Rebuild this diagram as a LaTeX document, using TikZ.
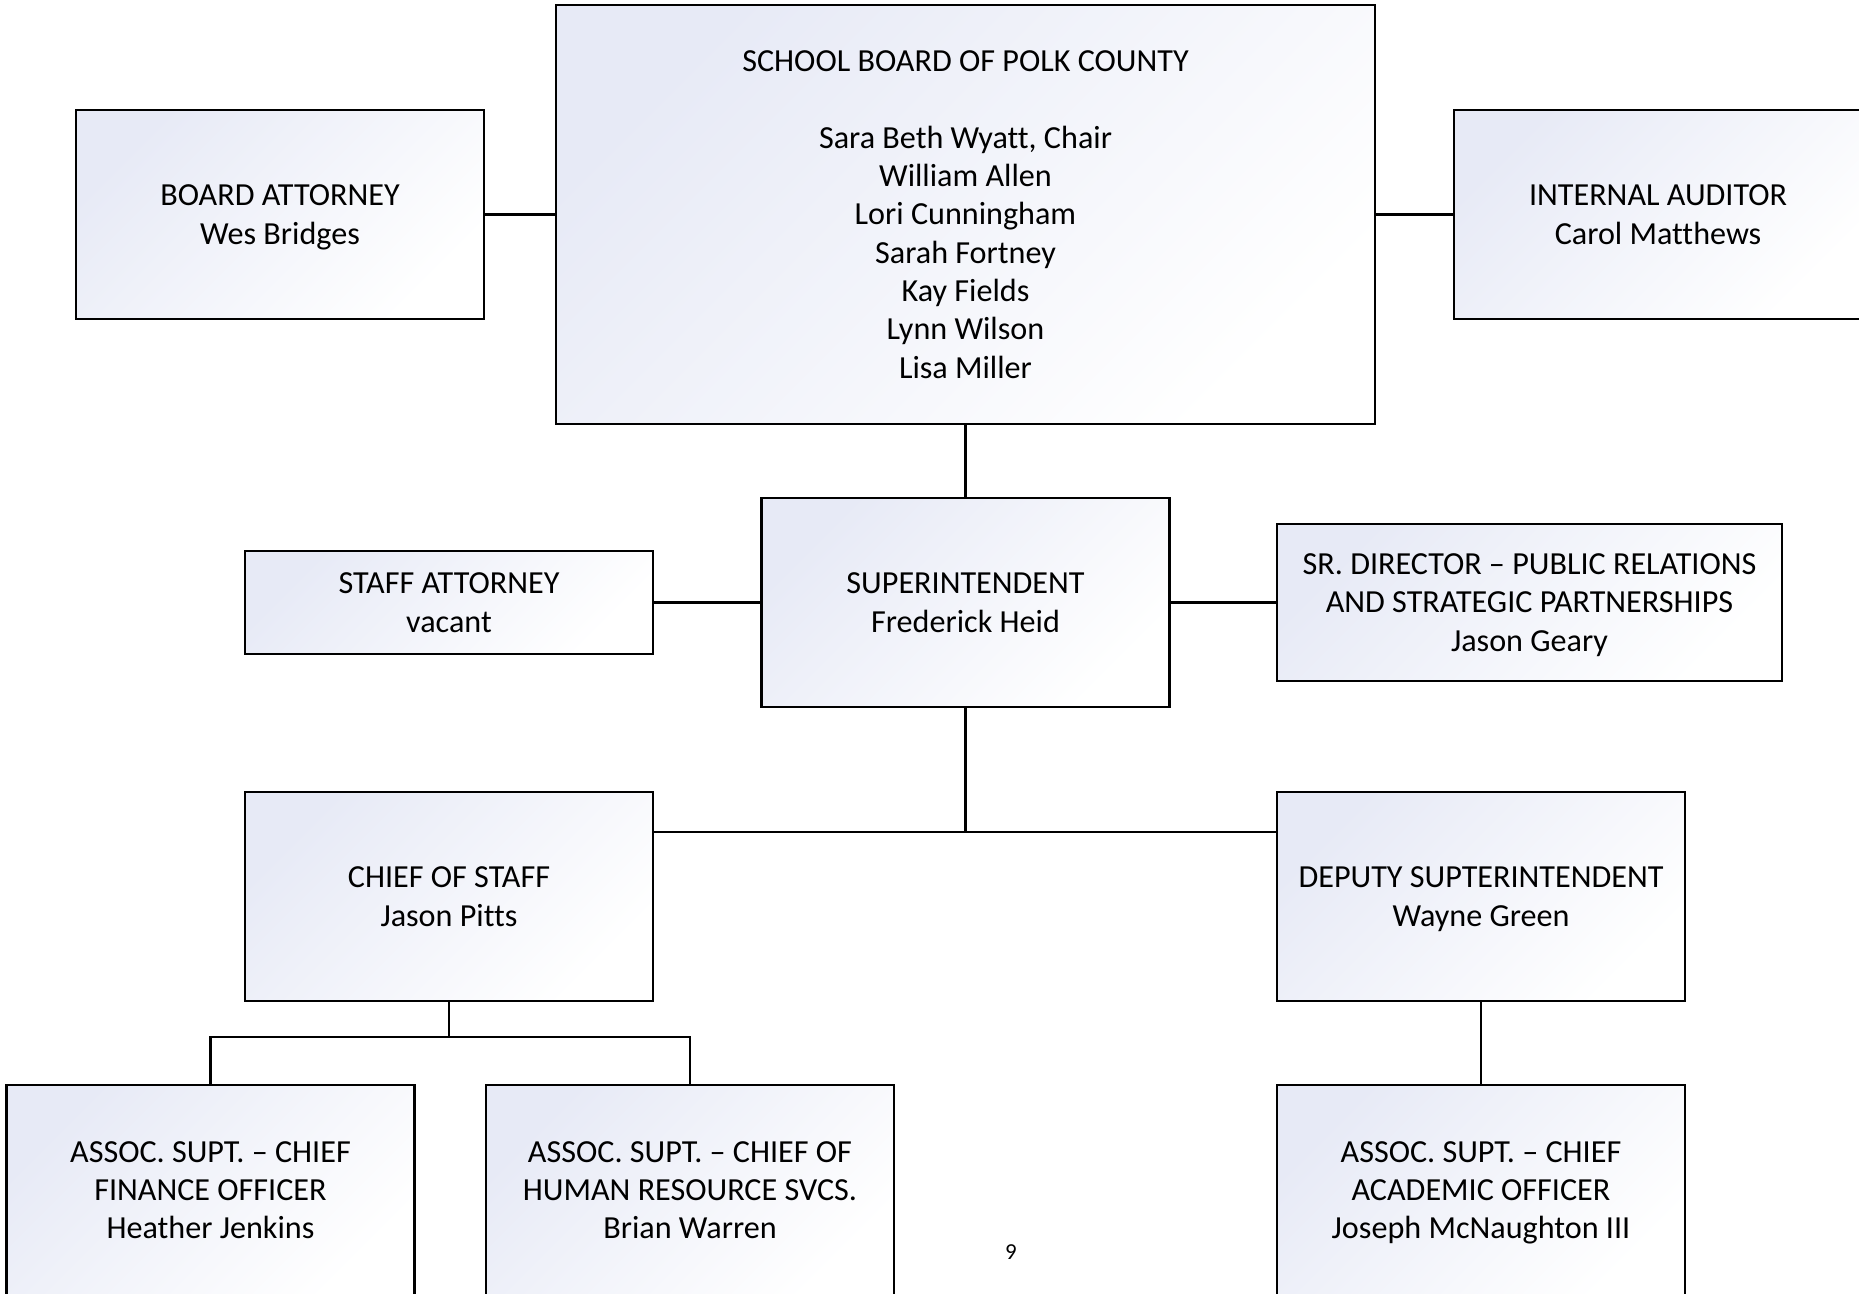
\documentclass[tikz,border=0pt]{standalone}
\usepackage{fontspec}
\setmainfont{Carlito}[Ligatures=NoCommon]
\definecolor{boxtint}{RGB}{231,234,246}

\begin{document}
\begin{tikzpicture}[x=0.02cm,y=-0.02cm,
    orgbox/.style={draw,line width=1.4pt,top color=boxtint,bottom color=white,
      shading angle=45,align=center,inner sep=0pt,
      font=\fontsize{18.3}{21.8}\selectfont,text depth=0pt,
      minimum width=8.16cm,minimum height=4.18cm},
    link/.style={line width=1.4pt}]
  \clip (0,0) rectangle (1859,1294);
  \node[orgbox,minimum width=16.38cm,minimum height=8.38cm] (school) at (965.5,214.5)
    {SCHOOL BOARD OF POLK COUNTY\\ \\Sara Beth Wyatt, Chair\\William Allen\\Lori Cunningham\\
     Sarah Fortney\\Kay Fields\\Lynn Wilson\\Lisa Miller};
  \node[orgbox] (boardatty) at (280,214.5) {BOARD ATTORNEY\\Wes Bridges};
  \node[orgbox] (auditor) at (1658,214.5) {INTERNAL AUDITOR\\Carol Matthews};
  \node[orgbox] (supt) at (965.5,602.5) {SUPERINTENDENT\\Frederick Heid};
  \node[orgbox,minimum height=2.06cm] (staffatty) at (449,602.5) {STAFF ATTORNEY\\vacant};
  \node[orgbox,minimum width=10.1cm,minimum height=3.14cm] (srdir) at (1529.5,602.5)
    {SR. DIRECTOR -- PUBLIC RELATIONS\\AND STRATEGIC PARTNERSHIPS\\Jason Geary};
  \node[orgbox] (cos) at (449,896.5) {CHIEF OF STAFF\\Jason Pitts};
  \node[orgbox] (deputy) at (1481,896.5) {DEPUTY SUPTERINTENDENT\\Wayne Green};
  \node[orgbox,minimum height=4.2cm] (cfo) at (210.5,1190)
    {ASSOC. SUPT. -- CHIEF\\FINANCE OFFICER\\Heather Jenkins};
  \node[orgbox,minimum height=4.2cm] (hr) at (690,1190)
    {ASSOC. SUPT. -- CHIEF OF\\HUMAN RESOURCE SVCS.\\Brian Warren};
  \node[orgbox,minimum height=4.2cm] (cao) at (1481,1190)
    {ASSOC. SUPT. -- CHIEF\\ACADEMIC OFFICER\\Joseph McNaughton III};
  \node[font=\fontsize{13}{15}\selectfont] (pagenum) at (1011,1252) {9};
  % connectors
  \coordinate (suptbar) at (965.5,832);
  \coordinate (cosbar) at (449,1037);
  \draw[link] (boardatty.east) -- (school.west);
  \draw[link] (school.east) -- (auditor.west);
  \draw[link] (school.south) -- (supt.north);
  \draw[link] (staffatty.east) -- (supt.west);
  \draw[link] (supt.east) -- (srdir.west);
  \draw[link] (supt.south) -- (suptbar);
  \draw[link] (cos.east |- suptbar) -- (deputy.west |- suptbar);
  \draw[link] (cos.south) -- (cosbar);
  \draw[link] (cfo.north) |- (cosbar) -| (hr.north);
  \draw[link] (deputy.south) -- (cao.north);
\end{tikzpicture}
\end{document}
